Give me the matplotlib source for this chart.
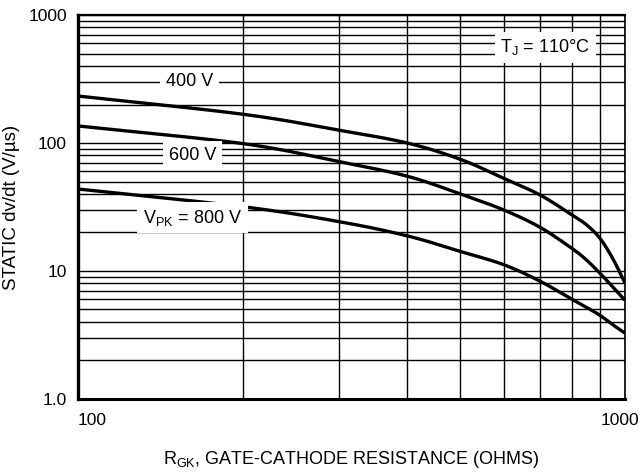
import matplotlib
matplotlib.use("Agg")
import numpy as np
import matplotlib.pyplot as plt
import matplotlib.transforms as mtransforms
from matplotlib.ticker import LogLocator, NullFormatter

plt.rcParams['font.family'] = ['Liberation Sans', 'DejaVu Sans']

# gate-cathode resistance (ohms)
r_gk = [100, 200, 300, 400, 500, 600, 700, 800, 850, 900, 950, 1000]
# static dv/dt (V/us) for each peak voltage
dvdt_400 = [233, 168, 126, 100, 74.6, 53, 39.2, 27.4, 23, 18, 12.5, 8.05]
dvdt_600 = [136, 99, 71.5, 55, 40, 30, 21.9, 15.0, 12.2, 9.6, 7.5, 5.9]
dvdt_800 = [43.7, 31.8, 24.3, 18.8, 14.2, 11.2, 8.3, 6.0, 5.2, 4.5, 3.8, 3.26]

x_ticks = [100, 1000]
x_ticklabels = ['100', '1000']
y_ticks = [1, 10, 100, 1000]
y_ticklabels = ['1.0', '10', '100', '1000']


def smooth_loglog(x, y, n=20):
    # catmull-rom through the read points, done in log-log space
    lx = np.log10(x)
    ly = np.log10(y)
    px = np.concatenate([[2 * lx[0] - lx[1]], lx, [2 * lx[-1] - lx[-2]]])
    py = np.concatenate([[2 * ly[0] - ly[1]], ly, [2 * ly[-1] - ly[-2]]])
    out_x, out_y = [], []
    t = np.linspace(0, 1, n, endpoint=False)
    for i in range(1, len(px) - 2):
        for p, out in ((px, out_x), (py, out_y)):
            p0, p1, p2, p3 = p[i - 1], p[i], p[i + 1], p[i + 2]
            out.extend(0.5 * (2 * p1 + (-p0 + p2) * t
                              + (2 * p0 - 5 * p1 + 4 * p2 - p3) * t ** 2
                              + (-p0 + 3 * p1 - 3 * p2 + p3) * t ** 3))
    out_x.append(lx[-1])
    out_y.append(ly[-1])
    return 10 ** np.array(out_x), 10 ** np.array(out_y)


fig = plt.figure(figsize=(6.39, 4.72), dpi=100)
ax = fig.add_axes([0.122, 0.155, 0.856, 0.813])
ax.set_xscale('log')
ax.set_yscale('log')
ax.set_xlim(100, 1000)
ax.set_ylim(1, 1000)

# grid on every decade and sub-decade value
ax.xaxis.set_minor_locator(LogLocator(base=10, subs=range(2, 10)))
ax.yaxis.set_minor_locator(LogLocator(base=10, subs=range(2, 10)))
ax.xaxis.set_minor_formatter(NullFormatter())
ax.yaxis.set_minor_formatter(NullFormatter())
ax.grid(True, which='both', color='black', linewidth=1.0)
ax.set_axisbelow(True)

for vals in (dvdt_400, dvdt_600, dvdt_800):
    sx, sy = smooth_loglog(r_gk, vals)
    ax.plot(sx, sy, color='black', linewidth=2.4, solid_capstyle='butt', zorder=3)

ax.set_xticks(x_ticks)
ax.set_xticklabels(x_ticklabels)
ax.set_yticks(y_ticks)
ax.set_yticklabels(y_ticklabels)
ax.tick_params(which='both', length=0, labelsize=12.5)
ax.tick_params(axis='x', pad=10)
ax.tick_params(axis='y', pad=8)
xl = ax.get_xticklabels()
xl[0].set_horizontalalignment('left')
xl[1].set_transform(xl[1].get_transform()
                    + mtransforms.ScaledTranslation(-0.05, 0, fig.dpi_scale_trans))

for side, lw in (('left', 2.4), ('bottom', 2.2), ('top', 1.6), ('right', 1.2)):
    ax.spines[side].set_linewidth(lw)

box = dict(facecolor='white', edgecolor='none', pad=4)
ax.text(160, 300, '400 V', fontsize=13, ha='center', va='center', bbox=box, zorder=4)
ax.text(162, 80, '600 V', fontsize=13, ha='center', va='center', bbox=box, zorder=4)
ax.text(162, 26, r'$\mathregular{V_{PK}}$ = 800 V', fontsize=13, ha='center', va='center',
        bbox=box, zorder=4)
ax.text(715, 560, r'$\mathregular{T_J}$ = 110°C', fontsize=13, ha='center', va='center',
        bbox=box, zorder=4)

ax.set_xlabel(r'$\mathregular{R_{GK}}$, GATE-CATHODE RESISTANCE (OHMS)', fontsize=13, labelpad=15)
ax.set_ylabel('STATIC dv/dt (V/µs)', fontsize=13.5, labelpad=6)

fig.savefig('out.png', dpi=100)
